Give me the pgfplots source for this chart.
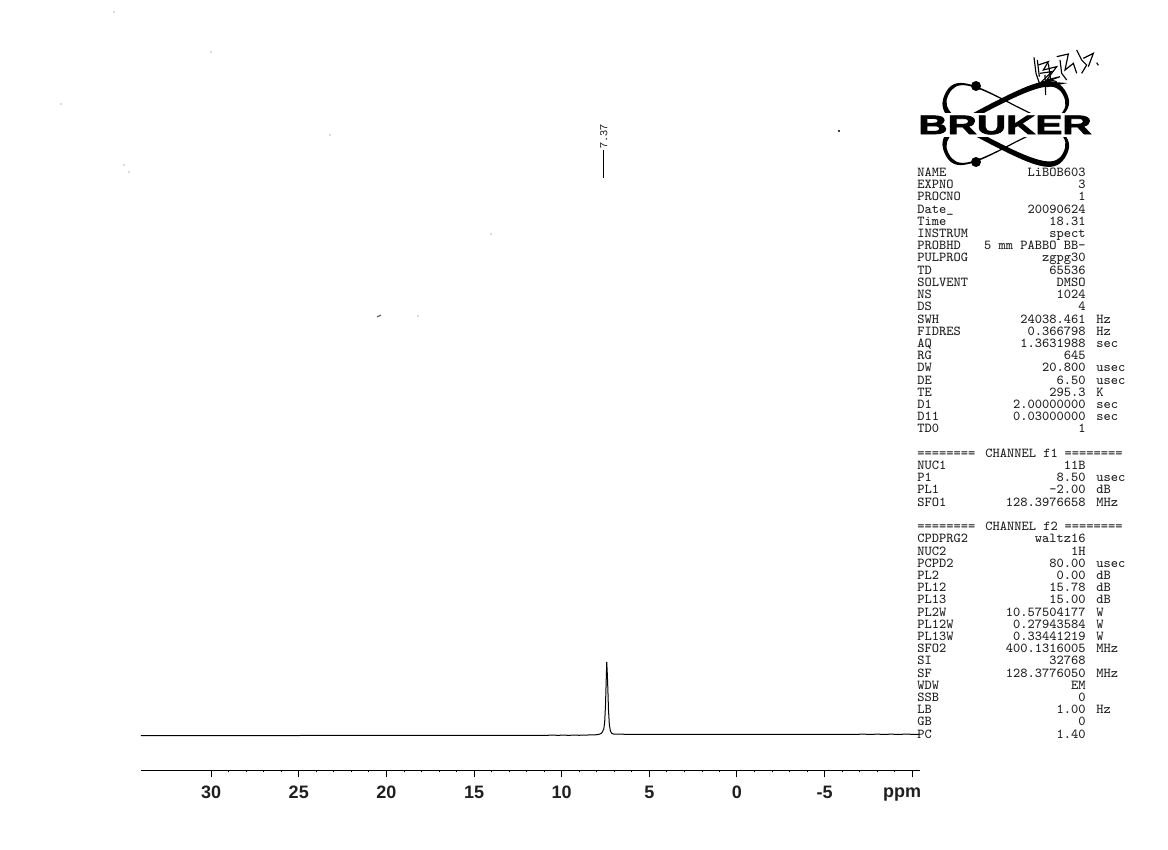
\documentclass[border=0pt]{standalone}
\usepackage{fontspec}
\setmainfont{Liberation Sans}
\newfontfamily\logofont{Liberation Sans}[BoldFeatures={FakeBold=2.5}]
\usepackage{graphicx}
\usepackage{pgfplots}
\pgfplotsset{compat=1.18}
\definecolor{txt}{gray}{0.12}
\newcommand\prow[4]{%
  \node[anchor=base west,inner sep=0pt] at (917,{176.5+12.21*#1}) {#2};
  \node[anchor=base east,inner sep=0pt] at (1086,{176.5+12.21*#1}) {#3};
  \node[anchor=base west,inner sep=0pt] at (1096,{176.5+12.21*#1}) {#4};}
\newcommand\chan[2]{%
  \node[anchor=base west,inner sep=0pt] at (917,{176.5+12.21*#1}) {========};
  \node[anchor=base west,inner sep=0pt] at (985,{176.5+12.21*#1}) {CHANNEL #2};
  \node[anchor=base east,inner sep=0pt] at (1123,{176.5+12.21*#1}) {========};}
\newcommand\orbit{%
  \fill[black,even odd rule]
   (-68,0) .. controls (-68,-20) and (-50,-22) .. (0,-21) .. controls (50,-22) and (68,-20) .. (68,0)
    .. controls (68,22) and (50,25) .. (0,25) .. controls (-50,25) and (-68,22) .. (-68,0) -- cycle
   (-64.5,0) .. controls (-64.5,-18) and (-50,-20.5) .. (0,-19.8) .. controls (50,-20.5) and (64,-18) .. (64,0)
    .. controls (64,15) and (50,20) .. (0,20) .. controls (-50,20) and (-64.5,16) .. (-64.5,0) -- cycle;}
\begin{document}
\begin{tikzpicture}[x=0.6pt,y=-0.6pt]
\fill[white] (0,0) rectangle (1168,850);
\begin{axis}[
  at={(84.6pt,-462pt)},anchor=south west,scale only axis,
  width=467.4pt,height=402pt,
  x dir=reverse,xmin=-10.44,xmax=34.0,ymin=-35,ymax=635,
  axis x line=bottom,axis y line=none,
  axis line style={-,line width=0.6pt,black},
  xtick={30,25,20,15,10,5,0,-5,-10},
  xticklabels={30,25,20,15,10,5,0,-5,},
  minor x tick num=4,
  tick align=outside,
  major tick length=4.4pt,minor tick length=1.4pt,
  x tick style={line width=0.6pt,black},
  minor x tick style={line width=0.5pt,black},
  xticklabel style={font=\bfseries\fontsize{10.8}{12}\selectfont,text=txt,yshift=-1.5pt},
  clip=false,
]
% spectrum: ppm, height above baseline
\addplot[black,line width=0.6pt] coordinates {
(34,-0.5)(30,-0.5)(25,-0.5)(20,-0.4)(15,-0.4)(12,-0.3)(10.8,-0.3)(10.5,0)(10.2,-0.4)(9.9,0)(9.6,-0.4)(9.3,0)(9.0,-0.3)(8.8,0)
(8.5,0)(8.2,0.1)(8.0,0.3)(7.85,0.8)(7.75,1.5)(7.68,3)(7.6,6)(7.55,12)(7.5,30)(7.46,55)(7.43,73)(7.40,62)(7.37,48)(7.33,25)(7.28,10)(7.22,4)(7.15,1.8)(7.05,1)(6.9,0.8)
(6,0.7)(3,0.7)(0,0.7)(-3,0.7)(-6.9,0.7)(-7.2,0.9)(-7.6,0.5)(-8,0.9)(-8.4,0.5)(-8.8,0.9)(-9.2,0.5)(-9.6,0.9)(-10,0.7)(-10.44,0.7)};
% peak label stem
\addplot[black,line width=0.6pt] coordinates {(7.59,557)(7.59,585)};
\node[rotate=90,anchor=west,inner sep=0pt,text=txt,font=\fontsize{7}{9}\selectfont\ttfamily] at (axis cs:7.6,586) {7.37};
\end{axis}
\node[anchor=base,inner sep=0pt,text=txt,font=\bfseries\fontsize{10.8}{12}\selectfont] at (902,797) {ppm};
% parameter block
\begin{scope}[font=\fontsize{8.2}{10}\selectfont\ttfamily,text=txt]
\prow{0}{NAME}{LiBOB603}{}
\prow{1}{EXPNO}{3}{}
\prow{2}{PROCNO}{1}{}
\prow{3}{Date\_}{20090624}{}
\prow{4}{Time}{18.31}{}
\prow{5}{INSTRUM}{spect}{}
\prow{6}{PROBHD}{5 mm PABBO BB-}{}
\prow{7}{PULPROG}{zgpg30}{}
\prow{8}{TD}{65536}{}
\prow{9}{SOLVENT}{DMSO}{}
\prow{10}{NS}{1024}{}
\prow{11}{DS}{4}{}
\prow{12}{SWH}{24038.461}{Hz}
\prow{13}{FIDRES}{0.366798}{Hz}
\prow{14}{AQ}{1.3631988}{sec}
\prow{15}{RG}{645}{}
\prow{16}{DW}{20.800}{usec}
\prow{17}{DE}{6.50}{usec}
\prow{18}{TE}{295.3}{K}
\prow{19}{D1}{2.00000000}{sec}
\prow{20}{D11}{0.03000000}{sec}
\prow{21}{TD0}{1}{}
\chan{23}{f1}
\prow{24}{NUC1}{11B}{}
\prow{25}{P1}{8.50}{usec}
\prow{26}{PL1}{-2.00}{dB}
\prow{27}{SFO1}{128.3976658}{MHz}
\chan{29}{f2}
\prow{30}{CPDPRG2}{waltz16}{}
\prow{31}{NUC2}{1H}{}
\prow{32}{PCPD2}{80.00}{usec}
\prow{33}{PL2}{0.00}{dB}
\prow{34}{PL12}{15.78}{dB}
\prow{35}{PL13}{15.00}{dB}
\prow{36}{PL2W}{10.57504177}{W}
\prow{37}{PL12W}{0.27943584}{W}
\prow{38}{PL13W}{0.33441219}{W}
\prow{39}{SFO2}{400.1316005}{MHz}
\prow{40}{SI}{32768}{}
\prow{41}{SF}{128.3776050}{MHz}
\prow{42}{WDW}{EM}{}
\prow{43}{SSB}{0}{}
\prow{44}{LB}{1.00}{Hz}
\prow{45}{GB}{0}{}
\prow{46}{PC}{1.40}{}
\end{scope}
% Bruker logo
\begin{scope}[shift={(1006,124)},rotate=-27]
\orbit
\end{scope}
\begin{scope}[shift={(1006,124)},yscale=-1,rotate=-27]
\orbit
\end{scope}
\fill[black] (976,86) circle [radius=5];
\fill[black] (976,162) circle [radius=5];
\fill[white] (914,113) rectangle (1096,137);
\node[inner sep=0pt,text=black] at (1005,125) {\scalebox{1.52}[1]{\logofont\bfseries\fontsize{16}{18}\selectfont BRUKER}};
% handwritten signature and scan specks
\begin{scope}[shift={(900,40)},x=0.2pt,y=-0.2pt,line width=0.7pt,black]
\draw (402,52)--(408,100)--(420,135);
\draw (412,60)--(418,110);
\draw (415,75)--(445,65)--(430,90)--(470,80)--(440,120)--(480,110)--(410,135)--(460,130);
\draw (420,100)--(455,95)--(425,125)--(490,130)--(440,140);
\draw (445,70)--(452,120)--(470,125);
\draw (435,105)--(437,165);
\draw (470,50)--(505,42)--(495,90)--(520,70)--(530,100);
\draw (480,60)--(485,100)--(500,120);
\draw (530,30)--(545,60)--(560,75)--(545,100);
\draw (550,55)--(580,40)--(565,80);
\draw (590,68)--(595,76);
\end{scope}
\foreach \sx/\sy in {114/12,211/52,61/104,330/135,124/165,129/172,491/234,418/316}
  \fill[black!60] (\sx,\sy) circle [radius=0.6];
\fill[black] (839,131) circle [radius=1.2];
\draw[line width=0.6pt,gray!60!black] (377,317)--(381,315);
\end{tikzpicture}
\end{document}
